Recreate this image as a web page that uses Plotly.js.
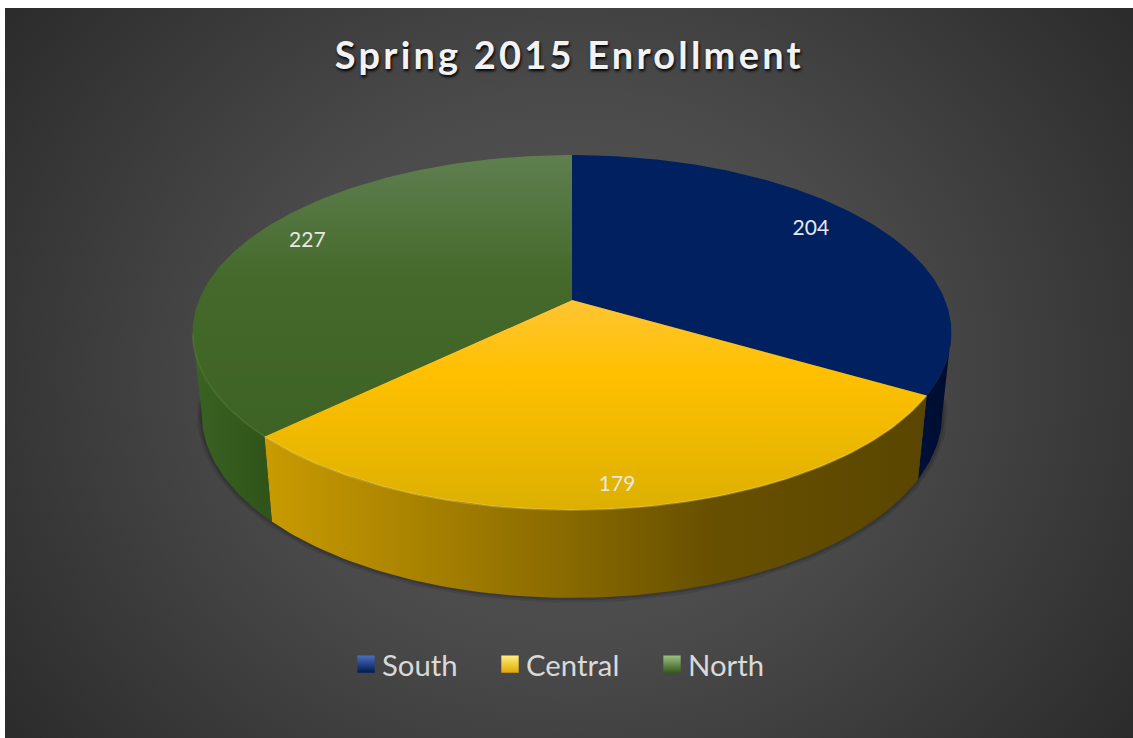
<!DOCTYPE html>
<html>
<head>
<meta charset="utf-8">
<script src="https://cdn.plot.ly/plotly-3.0.1.min.js"></script>
<style>
html,body{margin:0;padding:0;background:#fff;overflow:hidden}
#panel{position:absolute;left:5px;top:8px;width:1128px;height:730px;background:radial-gradient(ellipse 62% 85% at 50% 50%,#595959 0%,#4a4a4a 45%,#2b2b2b 100%)}
#chart{position:absolute;left:0;top:0;width:1133px;height:738px}
.gtitle{letter-spacing:3.2px}
.legendpoints path.scatterpts{transform:translate(24px,0) scale(1.45)}
</style>
</head>
<body>
<div id="panel"></div>
<div id="chart"></div>
<script>
// data
const categories = ['South', 'Central', 'North'];
const enrollment = [204, 179, 227];
const chartTitle = 'Spring 2015 Enrollment';
const labelReachX = [0.805, 0.838, 0.826];
const labelReachY = [0.895, 0.894, 0.928];
const legendLeft = [342, 486, 648];

// styles
const topScales = [
  [[0, '#002060'], [1, '#002060']],
  [[0, '#ffc533'], [0.35, '#ffc000'], [1, '#dcb000']],
  [[0, '#5f7f50'], [0.45, '#44692a'], [1, '#3d6324']]
];
const wallScales = [
  [[0, '#001038'], [1, '#000c30']],
  [[0, '#c99b00'], [0.28, '#a27d00'], [0.45, '#8a6b00'], [0.67, '#685000'], [1, '#5a4600']],
  [[0, '#3a6323'], [1, '#2f5319']]
];
const rimColors = ['rgba(255,255,255,0)', 'rgba(255,235,150,0.25)', 'rgba(120,170,90,0.18)'];
const swatchColors = [['#4a6fc0', '#001a50'], ['#fff080', '#e0a800'], ['#9cc080', '#355a1e']];

// perspective of the disc: plot units are pixels
const lean = 0.183;
const topDisc = {cx: 572, cy: 300, a: 373, b: 171.5};
const lowDisc = {cx: 572, cy: 380, a: 364, b: 178};
const tangent = Math.acos(-lean) * 180 / Math.PI; // where the wall meets the silhouette

function rim(d, deg, rx = 1, ry = rx) {
  const t = deg * Math.PI / 180, X = Math.sin(t), Y = Math.cos(t), w = 1 + lean * Y;
  return [d.cx + d.a * rx * X / w, d.cy - d.b * ry * Y / w];
}
function arc(d, from, to) {
  const n = Math.max(2, Math.ceil(Math.abs(to - from))), out = [];
  for (let i = 0; i <= n; i++) out.push(rim(d, from + (to - from) * i / n));
  return out;
}
const total = enrollment.reduce((s, v) => s + v, 0);
let running = 0;
const spans = enrollment.map(v => { const s = [running, running + v / total * 360]; running = s[1]; return s; });

function poly(points, extra) {
  return Object.assign({
    type: 'scatter', mode: 'lines', x: points.map(p => p[0]), y: points.map(p => p[1]),
    fill: 'toself', line: {width: 0}, hoverinfo: 'skip', showlegend: false
  }, extra);
}
function stroke(points, color, width) {
  return {
    type: 'scatter', mode: 'lines', x: points.map(p => p[0]), y: points.map(p => p[1]),
    line: {color: color, width: width}, hoverinfo: 'skip', showlegend: false
  };
}
const traces = [];

// soft shadow round the lower edge
const shadowEdge = arc(lowDisc, 360 - tangent + 4, tangent - 4);
traces.push(stroke(shadowEdge, 'rgba(0,0,0,0.10)', 10));
traces.push(stroke(shadowEdge, 'rgba(0,0,0,0.14)', 5));

// front walls, limited to the part of each slice that faces the viewer
spans.forEach((s, i) => {
  const from = Math.max(s[0], tangent), to = Math.min(s[1], 360 - tangent);
  if (from >= to) return;
  const pts = arc(topDisc, from, to).concat(arc(lowDisc, to, from));
  const xs = pts.map(p => p[0]);
  traces.push(poly(pts, {
    fillgradient: {type: 'horizontal', colorscale: wallScales[i], start: Math.min(...xs), stop: Math.max(...xs)}
  }));
});

// top faces, with a faint light along the part of the rim that faces the viewer
spans.forEach((s, i) => {
  const pts = [rim(topDisc, 0, 0)].concat(arc(topDisc, s[0], s[1]));
  const ys = pts.map(p => p[1]);
  traces.push(poly(pts, {
    fillgradient: {type: 'vertical', colorscale: topScales[i], start: Math.min(...ys), stop: Math.max(...ys)}
  }));
  const from = Math.max(s[0], tangent), to = Math.min(s[1], 360 - tangent);
  if (from < to) traces.push(stroke(arc(topDisc, from, to), rimColors[i], 2));
});

// value labels
traces.push({
  type: 'scatter', mode: 'text', hoverinfo: 'skip', showlegend: false,
  x: spans.map((s, i) => rim(topDisc, (s[0] + s[1]) / 2, labelReachX[i], labelReachY[i])[0]),
  y: spans.map((s, i) => rim(topDisc, (s[0] + s[1]) / 2, labelReachX[i], labelReachY[i])[1]),
  text: enrollment.map(String), textposition: 'middle center',
  textfont: {family: 'Lato, sans-serif', size: 21, color: '#e8e8e8'}
});

// legend keys, one legend per key so that each can keep its own place
const legendBoxes = {};
categories.forEach((c, i) => {
  const id = i === 0 ? 'legend' : 'legend' + (i + 1);
  traces.push({
    type: 'scatter', mode: 'markers', name: c, x: [null], y: [null], legend: id,
    marker: {symbol: 'square', size: 17, color: swatchColors[i][0],
             gradient: {type: 'vertical', color: swatchColors[i][1]}}
  });
  legendBoxes[id] = {
    orientation: 'h', x: legendLeft[i] / 1133, xanchor: 'left', y: 0.0995, yanchor: 'middle',
    bgcolor: 'rgba(0,0,0,0)', font: {family: 'Lato, sans-serif', size: 29.3, color: '#d9d9d9'}, itemsizing: 'constant'
  };
});

const layout = Object.assign({
  width: 1133, height: 738, margin: {l: 0, r: 0, t: 0, b: 0},
  paper_bgcolor: 'rgba(0,0,0,0)', plot_bgcolor: 'rgba(0,0,0,0)',
  title: {text: '<b>' + chartTitle + '</b>', x: 0.5025, xanchor: 'center', y: 0.925, yanchor: 'middle',
          font: {family: 'Lato, sans-serif', size: 38, color: '#f2f2f2', shadow: '1px 2px 3px #000'}},
  xaxis: {range: [0, 1133], visible: false, fixedrange: true},
  yaxis: {range: [738, 0], visible: false, fixedrange: true},
  showlegend: true
}, legendBoxes);
Plotly.newPlot('chart', traces, layout, {displayModeBar: false, staticPlot: true});
</script>
</body>
</html>
